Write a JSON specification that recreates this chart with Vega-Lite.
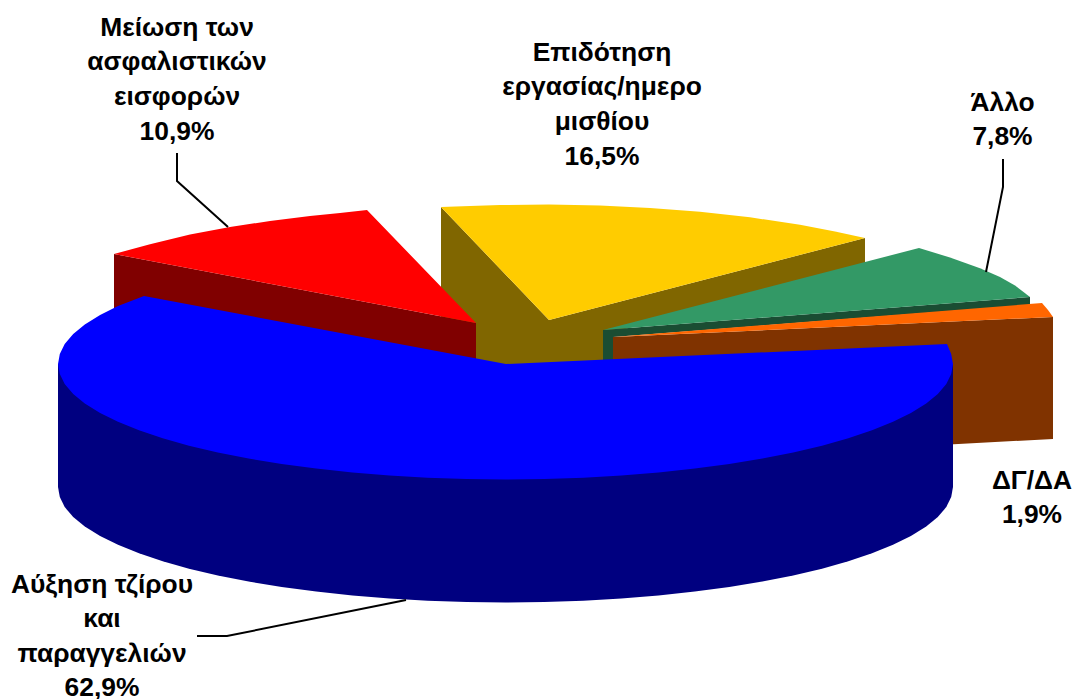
{"$schema":"https://vega.github.io/schema/vega-lite/v6.json","width":1073,"height":699,"padding":0,"autosize":"none","background":"white","config":{"view":{"stroke":null}},
"datasets":{
"shapes":[
{"part":"1 Επιδότηση side","i":1,"x":441,"y":207},{"part":"1 Επιδότηση side","i":2,"x":549,"y":320},{"part":"1 Επιδότηση side","i":3,"x":865,"y":238},{"part":"1 Επιδότηση side","i":4,"x":865,"y":264},{"part":"1 Επιδότηση side","i":5,"x":603,"y":335},{"part":"1 Επιδότηση side","i":6,"x":603,"y":362},{"part":"1 Επιδότηση side","i":7,"x":506,"y":366},{"part":"1 Επιδότηση side","i":8,"x":476,"y":360},{"part":"1 Επιδότηση side","i":9,"x":441,"y":320},
{"part":"2 Επιδότηση top","i":1,"x":441,"y":207},{"part":"2 Επιδότηση top","i":2,"x":470,"y":206},{"part":"2 Επιδότηση top","i":3,"x":500,"y":205},{"part":"2 Επιδότηση top","i":4,"x":549,"y":204.5},{"part":"2 Επιδότηση top","i":5,"x":600,"y":205.5},{"part":"2 Επιδότηση top","i":6,"x":650,"y":208},{"part":"2 Επιδότηση top","i":7,"x":700,"y":211.8},{"part":"2 Επιδότηση top","i":8,"x":750,"y":217.3},{"part":"2 Επιδότηση top","i":9,"x":800,"y":224.8},{"part":"2 Επιδότηση top","i":10,"x":835,"y":231.6},{"part":"2 Επιδότηση top","i":11,"x":865,"y":238},{"part":"2 Επιδότηση top","i":12,"x":549,"y":320},
{"part":"3 Μείωση side","i":1,"x":114,"y":254},{"part":"3 Μείωση side","i":2,"x":476,"y":323},{"part":"3 Μείωση side","i":3,"x":476,"y":362},{"part":"3 Μείωση side","i":4,"x":114,"y":320},
{"part":"4 Μείωση top","i":1,"x":114,"y":254},{"part":"4 Μείωση top","i":2,"x":150,"y":244.3},{"part":"4 Μείωση top","i":3,"x":190,"y":234.6},{"part":"4 Μείωση top","i":4,"x":230,"y":227},{"part":"4 Μείωση top","i":5,"x":270,"y":221},{"part":"4 Μείωση top","i":6,"x":310,"y":216},{"part":"4 Μείωση top","i":7,"x":340,"y":213},{"part":"4 Μείωση top","i":8,"x":367,"y":210},{"part":"4 Μείωση top","i":9,"x":476,"y":323},
{"part":"5 Άλλο side","i":1,"x":603,"y":330},{"part":"5 Άλλο side","i":2,"x":1030,"y":297},{"part":"5 Άλλο side","i":3,"x":1030,"y":305},{"part":"5 Άλλο side","i":4,"x":613,"y":337},{"part":"5 Άλλο side","i":5,"x":613,"y":365},{"part":"5 Άλλο side","i":6,"x":603,"y":365},
{"part":"6 Άλλο top","i":1,"x":603,"y":330},{"part":"6 Άλλο top","i":2,"x":919,"y":248},{"part":"6 Άλλο top","i":3,"x":950,"y":257.5},{"part":"6 Άλλο top","i":4,"x":980,"y":268.2},{"part":"6 Άλλο top","i":5,"x":1000,"y":277},{"part":"6 Άλλο top","i":6,"x":1015,"y":285.4},{"part":"6 Άλλο top","i":7,"x":1030,"y":297},
{"part":"7 ΔΓ/ΔΑ side","i":1,"x":613,"y":337},{"part":"7 ΔΓ/ΔΑ side","i":2,"x":1053,"y":317},{"part":"7 ΔΓ/ΔΑ side","i":3,"x":1053,"y":439},{"part":"7 ΔΓ/ΔΑ side","i":4,"x":940,"y":445},{"part":"7 ΔΓ/ΔΑ side","i":5,"x":940,"y":350},{"part":"7 ΔΓ/ΔΑ side","i":6,"x":613,"y":365},
{"part":"8 ΔΓ/ΔΑ top","i":1,"x":613,"y":337},{"part":"8 ΔΓ/ΔΑ top","i":2,"x":1042,"y":303},{"part":"8 ΔΓ/ΔΑ top","i":3,"x":1048,"y":310},{"part":"8 ΔΓ/ΔΑ top","i":4,"x":1053,"y":317},
{"part":"9 Αύξηση side","i":1,"x":953,"y":364},{"part":"9 Αύξηση side","i":2,"x":953,"y":487},{"part":"9 Αύξηση side","i":3,"x":951.2,"y":497},{"part":"9 Αύξηση side","i":4,"x":946.3,"y":507.1},{"part":"9 Αύξηση side","i":5,"x":937.8,"y":516.9},{"part":"9 Αύξηση side","i":6,"x":926.2,"y":526.5},{"part":"9 Αύξηση side","i":7,"x":910.9,"y":535.9},{"part":"9 Αύξηση side","i":8,"x":893,"y":544.8},{"part":"9 Αύξηση side","i":8.5,"x":872,"y":553.3},{"part":"9 Αύξηση side","i":9,"x":848.3,"y":561.3},{"part":"9 Αύξηση side","i":9.5,"x":822,"y":568.7},{"part":"9 Αύξηση side","i":10,"x":793.2,"y":575.5},{"part":"9 Αύξηση side","i":10.5,"x":762.4,"y":581.6},{"part":"9 Αύξηση side","i":11,"x":729.3,"y":587},{"part":"9 Αύξηση side","i":11.5,"x":694.8,"y":591.6},{"part":"9 Αύξηση side","i":12,"x":658.5,"y":595.6},{"part":"9 Αύξηση side","i":12.5,"x":621.4,"y":598.6},{"part":"9 Αύξηση side","i":13,"x":583.4,"y":600.8},{"part":"9 Αύξηση side","i":13.5,"x":544.4,"y":602},{"part":"9 Αύξηση side","i":14,"x":505.5,"y":602.5},{"part":"9 Αύξηση side","i":14.5,"x":466.6,"y":602},{"part":"9 Αύξηση side","i":15,"x":427.6,"y":600.8},{"part":"9 Αύξηση side","i":15.5,"x":389.6,"y":598.6},{"part":"9 Αύξηση side","i":16,"x":352.5,"y":595.6},{"part":"9 Αύξηση side","i":16.5,"x":316.2,"y":591.6},{"part":"9 Αύξηση side","i":17,"x":281.7,"y":587},{"part":"9 Αύξηση side","i":17.5,"x":248.6,"y":581.6},{"part":"9 Αύξηση side","i":18,"x":217.8,"y":575.5},{"part":"9 Αύξηση side","i":18.5,"x":189,"y":568.7},{"part":"9 Αύξηση side","i":19,"x":162.7,"y":561.3},{"part":"9 Αύξηση side","i":19.5,"x":139,"y":553.3},{"part":"9 Αύξηση side","i":20,"x":118,"y":544.8},{"part":"9 Αύξηση side","i":21,"x":100.1,"y":535.9},{"part":"9 Αύξηση side","i":22,"x":84.8,"y":526.5},{"part":"9 Αύξηση side","i":23,"x":73.2,"y":516.9},{"part":"9 Αύξηση side","i":24,"x":64.7,"y":507.1},{"part":"9 Αύξηση side","i":25,"x":59.8,"y":497},{"part":"9 Αύξηση side","i":26,"x":58,"y":487},{"part":"9 Αύξηση side","i":27,"x":58,"y":364},
{"part":"a Αύξηση top","i":1,"x":506,"y":364},{"part":"a Αύξηση top","i":2,"x":947,"y":344},{"part":"a Αύξηση top","i":3,"x":951.2,"y":354},{"part":"a Αύξηση top","i":4,"x":953,"y":364},{"part":"a Αύξηση top","i":5,"x":951.2,"y":374},{"part":"a Αύξηση top","i":6,"x":946.3,"y":384.1},{"part":"a Αύξηση top","i":7,"x":937.8,"y":393.9},{"part":"a Αύξηση top","i":8,"x":926.2,"y":403.5},{"part":"a Αύξηση top","i":9,"x":910.9,"y":412.9},{"part":"a Αύξηση top","i":10,"x":893,"y":421.8},{"part":"a Αύξηση top","i":10.5,"x":872,"y":430.3},{"part":"a Αύξηση top","i":11,"x":848.3,"y":438.3},{"part":"a Αύξηση top","i":11.5,"x":822,"y":445.7},{"part":"a Αύξηση top","i":12,"x":793.2,"y":452.5},{"part":"a Αύξηση top","i":12.5,"x":762.4,"y":458.6},{"part":"a Αύξηση top","i":13,"x":729.3,"y":464},{"part":"a Αύξηση top","i":13.5,"x":694.8,"y":468.6},{"part":"a Αύξηση top","i":14,"x":658.5,"y":472.6},{"part":"a Αύξηση top","i":14.5,"x":621.4,"y":475.6},{"part":"a Αύξηση top","i":15,"x":583.4,"y":477.8},{"part":"a Αύξηση top","i":15.5,"x":544.4,"y":479},{"part":"a Αύξηση top","i":16,"x":505.5,"y":479.5},{"part":"a Αύξηση top","i":16.5,"x":466.6,"y":479},{"part":"a Αύξηση top","i":17,"x":427.6,"y":477.8},{"part":"a Αύξηση top","i":17.5,"x":389.6,"y":475.6},{"part":"a Αύξηση top","i":18,"x":352.5,"y":472.6},{"part":"a Αύξηση top","i":18.5,"x":316.2,"y":468.6},{"part":"a Αύξηση top","i":19,"x":281.7,"y":464},{"part":"a Αύξηση top","i":19.5,"x":248.6,"y":458.6},{"part":"a Αύξηση top","i":20,"x":217.8,"y":452.5},{"part":"a Αύξηση top","i":20.5,"x":189,"y":445.7},{"part":"a Αύξηση top","i":21,"x":162.7,"y":438.3},{"part":"a Αύξηση top","i":21.5,"x":139,"y":430.3},{"part":"a Αύξηση top","i":22,"x":118,"y":421.8},{"part":"a Αύξηση top","i":23,"x":100.1,"y":412.9},{"part":"a Αύξηση top","i":24,"x":84.8,"y":403.5},{"part":"a Αύξηση top","i":25,"x":73.2,"y":393.9},{"part":"a Αύξηση top","i":26,"x":64.7,"y":384.1},{"part":"a Αύξηση top","i":27,"x":59.8,"y":374},{"part":"a Αύξηση top","i":28,"x":58,"y":364},{"part":"a Αύξηση top","i":29,"x":59.8,"y":354},{"part":"a Αύξηση top","i":30,"x":64.7,"y":344},{"part":"a Αύξηση top","i":31,"x":73.2,"y":334},{"part":"a Αύξηση top","i":32,"x":84.8,"y":324.5},{"part":"a Αύξηση top","i":33,"x":100.1,"y":315},{"part":"a Αύξηση top","i":34,"x":118,"y":306},{"part":"a Αύξηση top","i":35,"x":144,"y":296}
],
"leaders":[
{"slice":"Μείωση","i":1,"x":177,"y":153},{"slice":"Μείωση","i":2,"x":177,"y":181},{"slice":"Μείωση","i":3,"x":228,"y":227},
{"slice":"Άλλο","i":1,"x":1003,"y":159},{"slice":"Άλλο","i":2,"x":1003,"y":187},{"slice":"Άλλο","i":3,"x":986,"y":272},
{"slice":"Αύξηση","i":1,"x":197,"y":636},{"slice":"Αύξηση","i":2,"x":227,"y":636},{"slice":"Αύξηση","i":3,"x":406,"y":600}
],
"labels":[
{"text":"Μείωση των","x":177,"y":36},{"text":"ασφαλιστικών","x":177,"y":70},{"text":"εισφορών","x":177,"y":105},{"text":"10,9%","x":177,"y":140},
{"text":"Επιδότηση","x":602,"y":61},{"text":"εργασίας/ημερο","x":602,"y":95},{"text":"μισθίου","x":602,"y":130},{"text":"16,5%","x":602,"y":165},
{"text":"Άλλο","x":1002.5,"y":111},{"text":"7,8%","x":1002.5,"y":145},
{"text":"ΔΓ/ΔΑ","x":1032,"y":489},{"text":"1,9%","x":1032,"y":523},
{"text":"Αύξηση τζίρου","x":102,"y":593},{"text":"και","x":102,"y":627},{"text":"παραγγελιών","x":102,"y":662},{"text":"62,9%","x":102,"y":696}
]},
"layer":[
{"data":{"name":"shapes"},"mark":{"type":"line","filled":true,"interpolate":"linear-closed","strokeWidth":0},
"encoding":{"x":{"field":"x","type":"quantitative","scale":{"domain":[0,1073],"nice":false,"zero":false},"axis":null},"y":{"field":"y","type":"quantitative","scale":{"domain":[699,0],"nice":false,"zero":false},"axis":null},"order":{"field":"i"},
"color":{"field":"part","type":"nominal","legend":null,"scale":{"domain":["1 Επιδότηση side","2 Επιδότηση top","3 Μείωση side","4 Μείωση top","5 Άλλο side","6 Άλλο top","7 ΔΓ/ΔΑ side","8 ΔΓ/ΔΑ top","9 Αύξηση side","a Αύξηση top"],"range":["#806600","#FFCC00","#800000","#FF0000","#1A4D33","#339966","#803300","#FF6600","#000080","#0000FF"]}}}},
{"data":{"name":"leaders"},"mark":{"type":"line","color":"black","strokeWidth":2},
"encoding":{"x":{"field":"x","type":"quantitative","scale":{"domain":[0,1073],"nice":false,"zero":false},"axis":null},"y":{"field":"y","type":"quantitative","scale":{"domain":[699,0],"nice":false,"zero":false},"axis":null},"order":{"field":"i"},"detail":{"field":"slice"}}},
{"data":{"name":"labels"},"mark":{"type":"text","font":"Liberation Sans","fontWeight":"bold","fontSize":26.4,"align":"center","baseline":"alphabetic","color":"black"},
"encoding":{"x":{"field":"x","type":"quantitative","scale":{"domain":[0,1073],"nice":false,"zero":false},"axis":null},"y":{"field":"y","type":"quantitative","scale":{"domain":[699,0],"nice":false,"zero":false},"axis":null},"text":{"field":"text"}}}
],
"resolve":{"scale":{"color":"independent"}}}
